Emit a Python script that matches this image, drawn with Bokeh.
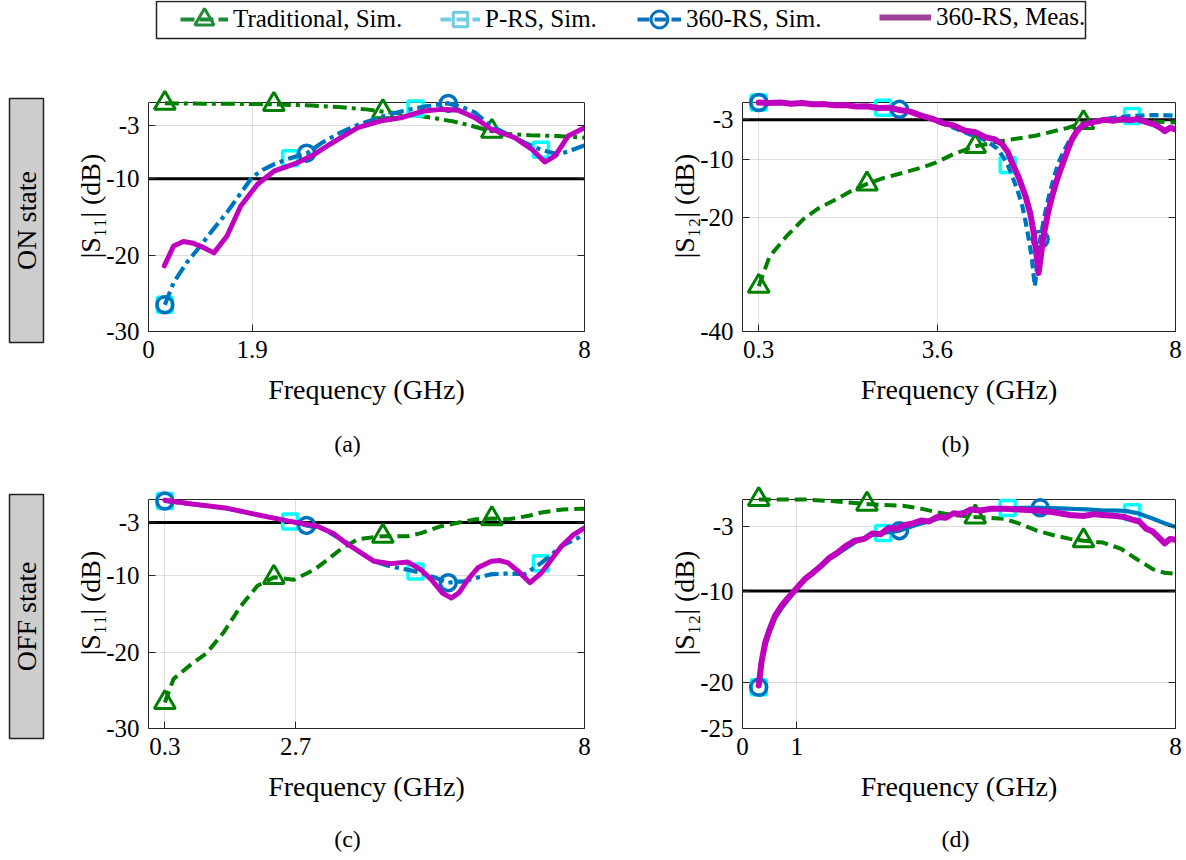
import numpy as np
from bokeh.plotting import figure
from bokeh.models import Range1d, LinearAxis, FixedTicker, Label, Span, Legend, LegendItem
from bokeh.layouts import column, row
from bokeh.embed import file_html
from bokeh.resources import INLINE

# ---------------- data ----------------
series_names = ["Traditional, Sim.", "P-RS, Sim.", "360-RS, Sim.", "360-RS, Meas."]
trad_marker_f = [0.3, 2.3, 4.3, 6.3]
prs_marker_f = [0.3, 2.6, 4.9, 7.2]
sim_marker_f = [0.3, 2.9, 5.5]

# (a) ON state, |S11|
a_trad_f = [0.3, 1.0, 2.0, 2.3, 3.0, 3.5, 4.0, 4.3, 4.8, 5.2, 5.6, 5.9, 6.2, 6.5, 7.0, 7.5, 8.0]
a_trad_v = [-0.1, -0.15, -0.2, -0.25, -0.4, -0.6, -0.9, -1.2, -1.6, -2.0, -2.5, -3.0, -3.6, -4.1, -4.3, -4.4, -4.6]
a_sim_f = [0.3, 0.46, 0.7, 0.95, 1.2, 1.44, 1.7, 1.9, 2.1, 2.3, 2.6, 2.92, 3.2, 3.53, 3.85, 4.14, 4.45,
           4.76, 5.1, 5.49, 5.75, 5.99, 6.29, 6.6, 6.9, 7.2, 7.52, 7.75, 8.0]
a_sim_v = [-26.5, -23.6, -21.0, -18.8, -16.5, -14.4, -11.8, -9.8, -8.8, -8.1, -7.3, -6.6, -5.2, -3.9, -2.9,
           -2.2, -1.5, -0.96, -0.5, -0.1, -0.6, -1.3, -3.1, -4.2, -5.25, -6.2, -6.8, -6.3, -5.6]
a_prs_f, a_prs_v = a_sim_f, a_sim_v
a_meas_f = [0.29, 0.46, 0.64, 0.8, 0.95, 1.2, 1.44, 1.69, 2.0, 2.3, 2.73, 3.04, 3.3, 3.53, 3.84, 4.27,
            4.63, 5.06, 5.37, 5.68, 5.99, 6.29, 6.72, 7.03, 7.27, 7.46, 7.7, 8.0]
a_meas_v = [-21.4, -18.8, -18.2, -18.4, -18.8, -19.7, -17.5, -13.6, -10.7, -9.0, -7.9, -6.8, -5.6, -4.6,
            -3.3, -2.4, -2.0, -1.1, -0.9, -1.0, -2.0, -3.5, -4.6, -6.1, -7.8, -7.0, -4.4, -3.3]

# (b) ON state, |S12|
b_trad_f = [0.3, 0.5, 0.81, 1.12, 1.4, 1.73, 2.0, 2.28, 2.6, 2.96, 3.3, 3.57, 3.9, 4.28, 4.8, 5.41,
            6.02, 6.3, 6.64, 7.25, 8.0]
b_trad_v = [-32.1, -26.9, -23.4, -20.4, -18.5, -16.9, -15.5, -14.3, -13.2, -12.3, -11.4, -10.5, -9.0,
            -7.7, -6.7, -5.8, -4.4, -3.5, -3.2, -3.2, -3.5]
b_sim_f = [0.3, 1.0, 1.5, 2.0, 2.5, 2.9, 3.2, 3.57, 3.9, 4.18, 4.4, 4.55, 4.7, 4.8, 4.9, 4.98, 5.08,
           5.17, 5.23, 5.29, 5.35, 5.4, 5.45, 5.5, 5.58, 5.66, 5.75, 5.84, 5.93, 6.02, 6.15, 6.27, 6.45,
           6.64, 6.9, 7.25, 7.6, 8.0]
b_sim_v = [0.0, -0.15, -0.3, -0.55, -0.85, -1.2, -1.9, -3.2, -4.4, -5.5, -6.2, -7.0, -8.0, -9.3, -10.9,
           -12.8, -15.3, -18.1, -20.8, -23.9, -27.5, -32.1, -28.0, -23.9, -19.8, -16.4, -13.2, -10.5,
           -8.6, -7.0, -5.4, -4.1, -3.4, -3.0, -2.6, -2.3, -2.2, -2.3]
b_prs_f, b_prs_v = b_sim_f, b_sim_v
b_meas_f = [0.3, 0.5, 0.7, 0.9, 1.1, 1.3, 1.5, 1.7, 1.9, 2.1, 2.3, 2.5, 2.7, 2.9, 3.1, 3.3, 3.5, 3.7,
            3.9, 4.1, 4.3, 4.5, 4.65, 4.8, 4.9, 4.98, 5.1, 5.23, 5.32, 5.38, 5.43, 5.47, 5.51, 5.56,
            5.64, 5.72, 5.81, 5.9, 6.0, 6.09, 6.18, 6.27, 6.4, 6.55, 6.7, 6.85, 7.0, 7.15, 7.3, 7.45,
            7.6, 7.7, 7.8, 7.9, 8.0]
b_meas_v = [0.0, -0.1, 0.0, -0.2, -0.1, -0.3, -0.25, -0.5, -0.45, -0.7, -0.65, -0.95, -0.9, -1.3,
            -1.6, -2.3, -2.8, -3.6, -4.0, -4.9, -5.2, -6.1, -6.4, -7.3, -8.6, -10.5, -13.0, -16.4,
            -19.5, -22.8, -26.5, -29.8, -27.0, -23.4, -19.5, -16.4, -13.5, -11.1, -8.5, -6.4, -5.0,
            -4.1, -3.6, -3.3, -3.0, -3.2, -2.9, -3.1, -2.9, -3.4, -3.8, -4.3, -5.0, -4.4, -4.7]

# (c) OFF state, |S11|
c_trad_f = [0.3, 0.46, 0.8, 1.07, 1.38, 1.69, 2.0, 2.3, 2.67, 3.04, 3.3, 3.53, 3.84, 4.3, 4.76, 5.0,
            5.37, 5.99, 6.3, 6.6, 7.0, 7.21, 7.6, 8.0]
c_trad_v = [-26.6, -23.5, -21.5, -20.1, -17.4, -14.0, -11.3, -10.2, -10.5, -9.2, -7.8, -6.5, -5.2,
            -4.8, -4.8, -4.4, -3.5, -2.6, -2.5, -2.6, -2.1, -1.7, -1.3, -1.2]
c_sim_f = [0.3, 0.8, 1.38, 2.0, 2.55, 2.9, 3.22, 3.65, 3.9, 4.14, 4.45, 4.76, 5.0, 5.25, 5.49, 5.8,
           6.05, 6.29, 6.6, 6.9, 7.21, 7.58, 8.0]
c_sim_v = [-0.2, -0.6, -1.1, -2.0, -2.8, -3.4, -3.9, -5.7, -7.0, -8.1, -8.8, -9.2, -9.6, -10.2, -10.9,
           -10.7, -10.2, -9.8, -9.7, -9.8, -8.3, -6.1, -4.6]
c_prs_f, c_prs_v = c_sim_f, c_sim_v
c_meas_f = [0.3, 0.8, 1.41, 2.0, 2.55, 3.1, 3.4, 3.62, 3.9, 4.14, 4.45, 4.76, 5.0, 5.19, 5.4, 5.56,
            5.7, 5.86, 6.05, 6.29, 6.45, 6.6, 6.8, 7.0, 7.21, 7.4, 7.58, 7.8, 8.0]
c_meas_v = [-0.1, -0.6, -1.1, -2.0, -2.8, -3.5, -4.5, -5.7, -7.0, -8.1, -8.4, -8.2, -9.2, -10.5, -12.3,
            -12.9, -12.2, -10.5, -8.9, -8.1, -8.0, -8.3, -9.5, -10.9, -9.6, -7.8, -6.1, -4.6, -3.7]

# (d) OFF state, |S12|
d_trad_f = [0.3, 0.7, 1.15, 1.7, 2.28, 2.6, 2.99, 3.3, 3.6, 3.9, 4.28, 4.55, 4.83, 5.1, 5.44, 5.75,
            6.05, 6.3, 6.66, 7.0, 7.28, 7.58, 7.8, 8.0]
d_trad_v = [0.0, 0.0, 0.0, -0.2, -0.5, -0.6, -0.7, -1.0, -1.4, -1.7, -1.9, -2.0, -2.1, -2.6, -3.4,
            -3.9, -4.3, -4.5, -4.7, -5.4, -6.5, -7.6, -8.0, -8.1]
d_sim_f = [0.3, 0.35, 0.42, 0.5, 0.6, 0.72, 0.85, 1.0, 1.15, 1.3, 1.46, 1.65, 1.89, 2.1, 2.38, 2.65,
           2.9, 3.2, 3.6, 3.9, 4.21, 4.5, 4.83, 5.2, 5.47, 5.8, 6.05, 6.4, 6.66, 6.9, 7.09, 7.3, 7.58,
           7.8, 8.0]
d_sim_v = [-20.5, -18.0, -16.0, -14.5, -13.0, -11.9, -10.9, -9.8, -8.7, -7.9, -7.2, -6.3, -5.4, -4.6,
           -3.9, -3.6, -3.4, -2.8, -2.1, -1.6, -1.2, -1.05, -0.95, -0.9, -0.9, -0.95, -1.0, -1.1, -1.2,
           -1.2, -1.25, -1.5, -2.1, -2.6, -3.0]
d_prs_f, d_prs_v = d_sim_f, d_sim_v
d_meas_f = [0.3, 0.35, 0.42, 0.5, 0.6, 0.72, 0.85, 1.0, 1.15, 1.3, 1.46, 1.6, 1.76, 1.9, 2.07, 2.25,
            2.4, 2.55, 2.7, 2.85, 2.99, 3.15, 3.3, 3.45, 3.6, 3.75, 3.9, 4.05, 4.21, 4.4, 4.6, 4.83,
            5.1, 5.44, 5.75, 6.05, 6.3, 6.5, 6.66, 6.9, 7.05, 7.2, 7.33, 7.46, 7.58, 7.7, 7.8, 7.9, 8.0]
d_meas_v = [-20.3, -17.8, -15.6, -14.2, -12.7, -11.6, -10.7, -9.7, -8.7, -8.0, -7.2, -6.4, -5.8, -5.1,
            -4.5, -4.3, -3.7, -3.8, -3.1, -3.2, -2.8, -2.6, -2.3, -2.4, -1.9, -2.0, -1.5, -1.6, -1.1,
            -1.2, -1.0, -1.0, -1.1, -1.2, -1.4, -1.7, -1.8, -1.6, -1.7, -1.8, -1.9, -2.2, -2.4, -3.2,
            -3.5, -4.2, -4.8, -4.3, -4.4]

# axes ticks / labels
a_xticks, a_xlabels = [0, 1.9, 8], ["0", "1.9", "8"]
b_xticks, b_xlabels = [0.3, 3.6, 8], ["0.3", "3.6", "8"]
c_xticks, c_xlabels = [0.3, 2.7, 8], ["0.3", "2.7", "8"]
d_xticks, d_xlabels = [0, 1, 8], ["0", "1", "8"]
a_yticks, a_ylabels = [-30, -20, -10, -3], ["-30", "-20", "-10", "-3"]
b_yticks, b_ylabels = [-40, -20, -10, -3], ["-40", "-20", "-10", "-3"]
c_yticks, c_ylabels = [-30, -20, -10, -3], ["-30", "-20", "-10", "-3"]
d_yticks, d_ylabels = [-25, -20, -10, -3], ["-25", "-20", "-10", "-3"]
x_min, x_max = 0, 8
y_mins = [-30, -40, -30, -25]
y_max = 0
ref_levels = [-10, -3, -3, -10]
x_label = "Frequency (GHz)"
y_labels = ["|S\u2081\u2081| (dB)", "|S\u2081\u2082| (dB)", "|S\u2081\u2081| (dB)", "|S\u2081\u2082| (dB)"]
captions = ["(a)", "(b)", "(c)", "(d)"]
row_labels = ["ON state", "OFF state"]

# ---------------- style ----------------
SERIF = "Liberation Serif"
AX = "#262626"
GREEN = "#008000"
CYAN = "#00FFFF"
BLUE = "#0072BD"
MAGENTA = "#BF00BF"
LG_COLORS = ["#1E8B3A", "#6ECDE1", "#0A72BE", "#A0419B"]
BOX_H = 229      # height of the axes box in px
EXTRA = 22       # headroom above the box so that markers at 0 dB are not clipped


def no_align(p):
    try:
        p.frame_align = False
    except AttributeError:
        pass


def bare_figure(width, height):
    p = figure(width=width, height=height, x_range=Range1d(0, width), y_range=Range1d(height, 0),
               output_backend="svg", toolbar_location=None, x_axis_location=None,
               y_axis_location=None, min_border=0, min_border_left=0, min_border_right=0,
               min_border_top=0, min_border_bottom=0)
    no_align(p)
    p.grid.visible = False
    p.outline_line_color = None
    return p


def style_axis(ax):
    ax.axis_line_color = AX
    ax.major_tick_line_color = AX
    ax.major_tick_in = 7
    ax.major_tick_out = 0
    ax.minor_tick_line_color = None
    ax.major_label_text_font = SERIF
    ax.major_label_text_font_size = "25px"
    ax.major_label_text_color = "black"
    ax.major_label_standoff = 9
    ax.axis_label_text_font = SERIF
    ax.axis_label_text_font_size = "28px"
    ax.axis_label_text_font_style = "normal"
    ax.axis_label_text_color = "black"


def make_panel(idx, width, height, bl, br, bt, bb, xticks, xlabels, yticks, ylabels, data, dashes, meas_w):
    ymin = y_mins[idx]
    ytop = y_max + EXTRA * (y_max - ymin) / BOX_H
    p = figure(width=width, height=height, x_range=Range1d(x_min, x_max), y_range=Range1d(ymin, ytop),
               output_backend="svg", toolbar_location=None,
               min_border_left=bl, min_border_right=br, min_border_top=bt - EXTRA, min_border_bottom=bb)
    p.outline_line_color = None
    xt = FixedTicker(ticks=xticks)
    yt = FixedTicker(ticks=yticks)
    xa, ya = p.xaxis[0], p.yaxis[0]
    xa.ticker = xt
    ya.ticker = yt
    xa.major_label_overrides = dict(zip(xticks, xlabels))
    ya.major_label_overrides = dict(zip(yticks, ylabels))
    style_axis(xa)
    style_axis(ya)
    ya.bounds = (ymin, y_max)
    xa.axis_label = x_label
    xa.axis_label_standoff = 13
    ya.axis_label = y_labels[idx]
    try:
        ya.axis_label_standoff = -3
    except ValueError:
        ya.axis_label_standoff = 0
    ra = LinearAxis(ticker=FixedTicker(ticks=yticks), major_label_overrides={t: "" for t in yticks},
                    bounds=(ymin, y_max))
    style_axis(ra)
    p.add_layout(ra, "right")
    p.xgrid.ticker = xt
    p.ygrid.ticker = yt
    p.grid.grid_line_color = AX
    p.grid.grid_line_alpha = 0.15
    p.grid.grid_line_width = 1
    try:
        p.xgrid.cross_bounds = (ymin, y_max)
    except AttributeError:
        p.xgrid.visible = False
        p.segment(x0=xticks, x1=xticks, y0=[ymin] * len(xticks), y1=[y_max] * len(xticks),
                  line_color=AX, line_alpha=0.15, line_width=1)

    # top edge of the axes box
    p.add_layout(Span(location=y_max, dimension="width", line_color=AX, line_width=1.2,
                      level="underlay"))
    p.add_layout(Span(location=ref_levels[idx], dimension="width", line_color="black",
                      line_width=3, level="underlay"))

    (tf, tv), (pf, pv), (sf, sv), (mf, mv) = data
    gd, sd = dashes
    p.line(tf, tv, line_color=GREEN, line_width=4, line_dash=gd)
    p.scatter(trad_marker_f, np.interp(trad_marker_f, tf, tv), marker="triangle", size=21,
              line_color=GREEN, fill_color=None, line_width=3)
    p.line(pf, pv, line_color=CYAN, line_width=4, line_dash=sd)
    p.scatter(prs_marker_f, np.interp(prs_marker_f, pf, pv), marker="square", size=15,
              line_color=CYAN, fill_color=None, line_width=3.5)
    p.line(sf, sv, line_color=BLUE, line_width=4, line_dash=sd)
    p.scatter(sim_marker_f, np.interp(sim_marker_f, sf, sv), marker="circle", size=16,
              line_color=BLUE, fill_color=None, line_width=3.5)
    p.line(mf, mv, line_color=MAGENTA, line_width=meas_w, line_join="round", line_cap="round")
    return p


def make_rowlabel(height, text, box_top, box_bottom):
    p = bare_figure(50, height)
    p.quad(left=9, right=43, top=box_top, bottom=box_bottom, fill_color="#CDCDCD",
           line_color="#222222", line_width=1.5)
    p.add_layout(Label(x=26, y=(box_top + box_bottom) / 2, text=text, angle=np.pi / 2,
                       text_align="center", text_baseline="middle", text_font=SERIF,
                       text_font_size="28px", text_color="black"))
    return p


def make_captions(height, texts, xs, y):
    p = bare_figure(1186, height)
    for t, x in zip(texts, xs):
        p.add_layout(Label(x=x, y=y, text=t, text_align="center", text_baseline="middle",
                           text_font=SERIF, text_font_size="24px", text_color="black"))
    return p


# ---------------- legend strip ----------------
leg = bare_figure(1186, 60)
leg.quad(left=156, right=1085, top=1, bottom=38, fill_color=None, line_color="#222222", line_width=1.5)

lg_specs = [
    dict(dash="14 5", marker="triangle", gw=48, gh=50, x=180),
    dict(dash="11 5", marker="square", gw=40, gh=36, x=440),
    dict(dash="12 5", marker="circle", gw=44, gh=42, x=637),
    dict(dash="solid", marker=None, gw=52, gh=24, x=879),
]
for name, col, spec in zip(series_names, LG_COLORS, lg_specs):
    rs = [leg.line([np.nan], [np.nan], line_color=col, line_width=4 if spec["marker"] else 6,
                   line_dash=spec["dash"])]
    if spec["marker"]:
        rs.append(leg.scatter([np.nan], [np.nan], marker=spec["marker"], line_color=col,
                              fill_color=None, line_width=3))
    lg = Legend(items=[LegendItem(label=name, renderers=rs)],
                location=(spec["x"], 41 - spec["gh"] / 2),
                orientation="horizontal", glyph_width=spec["gw"], glyph_height=spec["gh"],
                label_height=24, label_standoff=5, padding=0, margin=0, spacing=0,
                border_line_color=None, background_fill_alpha=0, label_text_font=SERIF,
                label_text_font_size="25px", label_text_color="black")
    leg.add_layout(lg)

# ---------------- panels ----------------
fa = make_panel(0, 550, 370, 98, 16, 42, 99, a_xticks, a_xlabels, a_yticks, a_ylabels,
                [(a_trad_f, a_trad_v), (a_prs_f, a_prs_v), (a_sim_f, a_sim_v), (a_meas_f, a_meas_v)],
                ("14 5 4 5", "14 5 4 5"), 5)
fb = make_panel(1, 586, 370, 142, 11, 42, 99, b_xticks, b_xlabels, b_yticks, b_ylabels,
                [(b_trad_f, b_trad_v), (b_prs_f, b_prs_v), (b_sim_f, b_sim_v), (b_meas_f, b_meas_v)],
                ("12 6", "9 5"), 6)
fc = make_panel(2, 550, 365, 98, 16, 39, 97, c_xticks, c_xlabels, c_yticks, c_ylabels,
                [(c_trad_f, c_trad_v), (c_prs_f, c_prs_v), (c_sim_f, c_sim_v), (c_meas_f, c_meas_v)],
                ("12 6", "14 5 4 5"), 5)
fd = make_panel(3, 586, 365, 142, 11, 39, 97, d_xticks, d_xlabels, d_yticks, d_ylabels,
                [(d_trad_f, d_trad_v), (d_prs_f, d_prs_v), (d_sim_f, d_sim_v), (d_meas_f, d_meas_v)],
                ("12 6", "solid"), 6)

lab1 = make_rowlabel(370, row_labels[0], 38, 282)
lab2 = make_rowlabel(365, row_labels[1], 34, 278)
cap1 = make_captions(30, captions[:2], [347, 955], 13)
cap2 = make_captions(35, captions[2:], [347, 955], 13)

layout = column(leg, row(lab1, fa, fb), cap1, row(lab2, fc, fd), cap2)
open("out.html", "w").write(file_html(layout, INLINE))
